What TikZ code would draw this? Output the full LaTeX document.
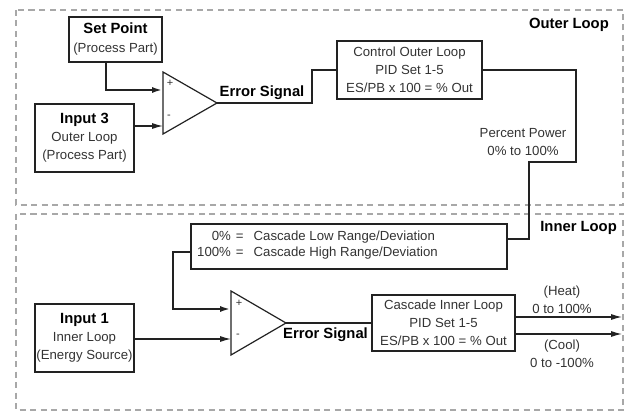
\documentclass[tikz,border=0pt]{standalone}
\usepackage{fontspec}
\setmainfont{Liberation Sans}
\usetikzlibrary{arrows.meta,calc}
\definecolor{dashgray}{HTML}{A8A8A8}
\definecolor{linecol}{HTML}{222222}
\definecolor{txtgray}{HTML}{333333}
\newcommand\nfont{\fontsize{13.2}{18}\selectfont}
\newcommand\bfnt{\fontsize{14.8}{18}\selectfont\bfseries\color{black}}
\begin{document}
\begin{tikzpicture}[x=1pt,y=-1pt,
  box/.style={draw=linecol, line width=1.2pt, inner sep=0pt, align=center, font=\nfont, text=txtgray},
  lbl/.style={inner sep=0pt, align=center, font=\nfont, text=txtgray},
  sgn/.style={inner sep=0pt, font=\fontsize{11}{12}\selectfont, text=txtgray},
  blbl/.style={inner sep=0pt, font=\bfnt, text=black},
  thinln/.style={draw=linecol, line width=1.2pt},
  thkln/.style={draw=linecol, line width=2.8pt},
  arr/.style={-{Latex[length=11pt,width=6pt]}},
  loopbox/.style={draw=dashgray, line width=1.4pt, dash pattern=on 6pt off 4.5pt},
  amp/.style={draw=linecol, line width=1.2pt}]
\useasboundingbox (0,0) rectangle (626,411);

% loop frames
\draw[loopbox] (16,10) rectangle (623,205);
\draw[loopbox] (16,214) rectangle (623,410);
\node[blbl, anchor=east] (ol) at (609,25) {Outer Loop};
\node[blbl, anchor=east] (il) at (617,228) {Inner Loop};

% ---------- outer loop ----------
\node[box, minimum width=93pt, minimum height=45pt] (sp) at (115.5,39.5) {{\bfnt Set Point}\\[1pt](Process Part)};
\node[box, minimum width=99pt, minimum height=68pt] (in3) at (84.5,138) {{\bfnt Input 3}\\Outer Loop\\(Process Part)};

\coordinate (a1p) at (163,90);
\coordinate (a1m) at (163,126);
\coordinate (a1o) at (217,103);
\draw[amp] (163,72) -- (163,134) -- (a1o) -- cycle;
\node[sgn] (a1plus) at (170,83) {+};
\node[sgn] (a1minus) at (169,117) {-};

\draw[thkln, arr] ([xshift=-9.5pt]sp.south) |- (a1p);
\draw[thinln, arr] (in3.east |- a1m) -- (a1m);

\node[blbl] (es1) at (262,93) {Error Signal};
\node[box, minimum width=145pt, minimum height=58pt] (col) at (409.5,70) {Control Outer Loop\\PID Set 1-5\\ES/PB x 100 = \% Out};
\coordinate (e1) at (312,103);
\draw[thkln] (a1o) -- (e1) |- (col.west);

\node[lbl] (pp) at (523,142.5) {Percent Power\\0\% to 100\%};

% ---------- inner loop ----------
\node[box, minimum width=316pt, minimum height=45pt] (casc) at (349,246.5) {};
\node[lbl, anchor=west, font=\fontsize{13.2}{15.5}\selectfont] (casct) at (197,245.5)
  {\begin{tabular}{@{}r@{\hspace{5pt}=\hspace{10pt}}l@{}}0\% & Cascade Low Range/Deviation\\100\% & Cascade High Range/Deviation\end{tabular}};

\coordinate (r1) at (576,162);
\coordinate (r2) at (529,239);
\draw[thkln] (col.east) -| (r1) -| (r2) -- (casc.east |- r2);

\coordinate (a2p) at (231,309);
\coordinate (a2m) at (231,339);
\coordinate (a2o) at (286,323);
\draw[amp] (231,291) -- (231,355) -- (a2o) -- cycle;
\node[sgn] (a2plus) at (239,303) {+};
\node[sgn] (a2minus) at (238,336) {-};

\coordinate (cl) at (173,252);
\draw[thkln, arr] (casc.west |- cl) -- (cl) |- (a2p);

\node[box, minimum width=99pt, minimum height=68pt] (in1) at (84.5,338) {{\bfnt Input 1}\\Inner Loop\\(Energy Source)};
\draw[thinln, arr] (in1.east |- a2m) -- (a2m);

\node[blbl] (es2) at (325.5,335) {Error Signal};
\node[box, minimum width=143pt, minimum height=56pt] (cil) at (443.5,323) {Cascade Inner Loop\\PID Set 1-5\\ES/PB x 100 = \% Out};
\draw[thkln] (a2o) -- (cil.west |- a2o);

\coordinate (heatend) at (622,317);
\coordinate (coolend) at (622,334);
\draw[thinln, arr] (cil.east |- heatend) -- (heatend);
\draw[thinln, arr] (cil.east |- coolend) -- (coolend);
\node[lbl] (heat) at (562,300) {(Heat)\\0 to 100\%};
\node[lbl] (cool) at (562,354) {(Cool)\\0 to -100\%};
\end{tikzpicture}
\end{document}
